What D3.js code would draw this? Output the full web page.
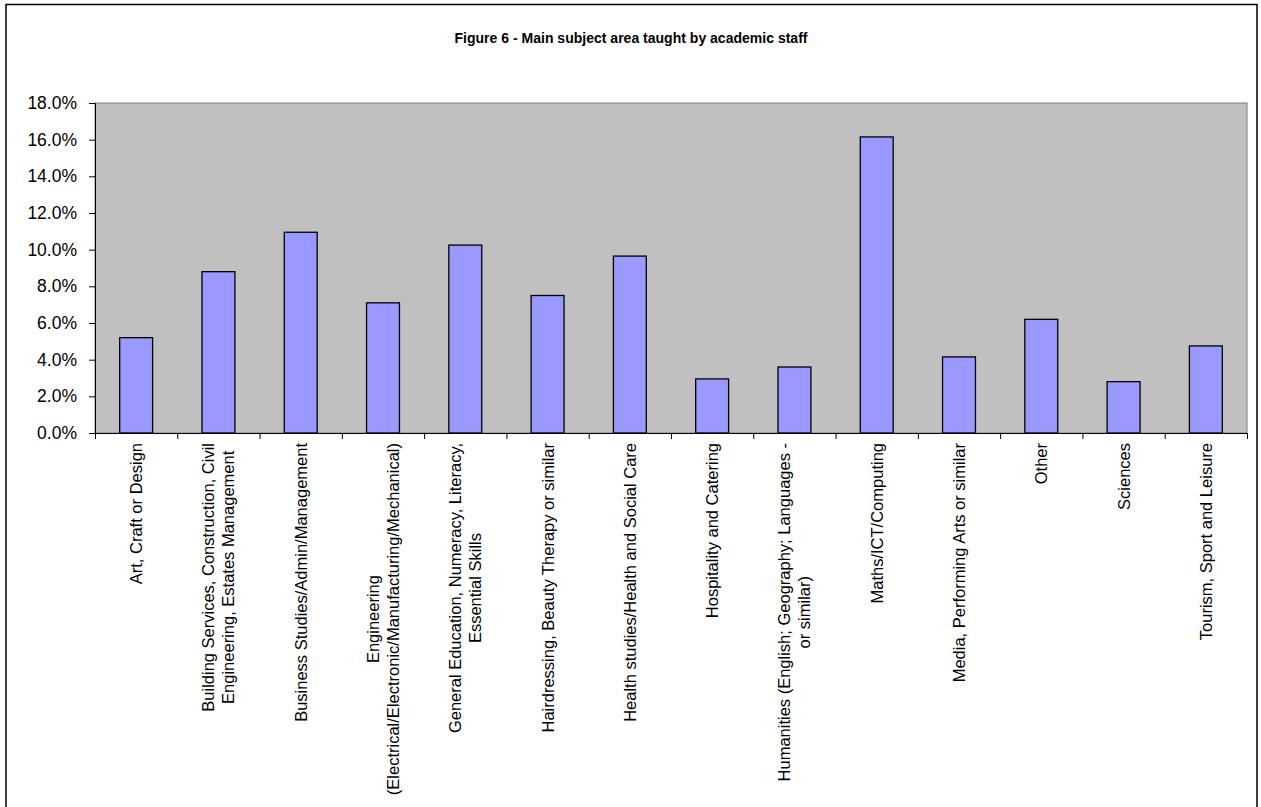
<!DOCTYPE html>
<html>
<head>
<meta charset="utf-8">
<script src="https://cdn.jsdelivr.net/npm/d3@7"></script>
<style>
  html, body { margin: 0; padding: 0; background: #ffffff; }
  svg { display: block; font-family: "Liberation Sans", Arial, sans-serif; }
</style>
</head>
<body>
<svg id="chart" width="1261" height="807"></svg>
<script>
// Subject areas (line breaks mark how the axis labels wrap)
const categories = [
  "Art, Craft or Design",
  "Building Services, Construction, Civil\nEngineering, Estates Management",
  "Business Studies/Admin/Management",
  "Engineering\n(Electrical/Electronic/Manufacturing/Mechanical)",
  "General Education, Numeracy, Literacy,\nEssential Skills",
  "Hairdressing, Beauty Therapy or similar",
  "Health studies/Health and Social Care",
  "Hospitality and Catering",
  "Humanities (English; Geography; Languages -\nor similar)",
  "Maths/ICT/Computing",
  "Media, Performing Arts or similar",
  "Other",
  "Sciences",
  "Tourism, Sport and Leisure"
];

// Share of academic staff (%)
const shares = [5.2, 8.8, 10.95, 7.1, 10.25, 7.5, 9.65, 2.95, 3.6, 16.15, 4.15, 6.2, 2.8, 4.75];

// Value axis ticks (%)
const yTicks = [0, 2, 4, 6, 8, 10, 12, 14, 16, 18];

const title = "Figure 6 - Main subject area taught by academic staff";

const svg = d3.select("#chart");

// Outer chart frame
svg.append("rect")
  .attr("x", 6).attr("y", 4.5)
  .attr("width", 1251).attr("height", 820)
  .attr("fill", "#ffffff")
  .attr("stroke", "#000000")
  .attr("stroke-width", 1.5);

// Title
svg.append("text")
  .attr("x", 631).attr("y", 43)
  .attr("text-anchor", "middle")
  .attr("font-size", 15.5)
  .attr("font-weight", "bold")
  .attr("textLength", 353)
  .attr("lengthAdjust", "spacingAndGlyphs")
  .attr("fill", "#000")
  .text(title);

const plot = { left: 95, right: 1247, top: 103, bottom: 433 };

const x = d3.scaleBand()
  .domain(d3.range(categories.length))
  .range([plot.left, plot.right])
  .paddingInner(0.6)
  .paddingOuter(0.3);

const xEdges = d3.scaleLinear()
  .domain([0, categories.length])
  .range([plot.left, plot.right]);

const y = d3.scaleLinear()
  .domain([0, 18])
  .range([plot.bottom, plot.top]);

// Plot area background
svg.append("rect")
  .attr("x", plot.left).attr("y", plot.top)
  .attr("width", plot.right - plot.left)
  .attr("height", plot.bottom - plot.top)
  .attr("fill", "#c0c0c0")
  .attr("stroke", "#808080")
  .attr("stroke-width", 1);

// Bars
svg.append("g")
  .selectAll("rect")
  .data(shares)
  .join("rect")
  .attr("x", (d, i) => x(i))
  .attr("y", d => y(d))
  .attr("width", x.bandwidth())
  .attr("height", d => y(0) - y(d))
  .attr("fill", "#9999ff")
  .attr("stroke", "#000000")
  .attr("stroke-width", 1.3);

// Value axis
const yAxis = svg.append("g")
  .attr("transform", `translate(${plot.left},0)`)
  .call(d3.axisLeft(y)
    .tickValues(yTicks)
    .tickFormat(d => d.toFixed(1) + "%")
    .tickSize(6)
    .tickPadding(12));
yAxis.select(".domain").attr("stroke", "#000").attr("stroke-width", 1);
yAxis.selectAll(".tick line").attr("stroke", "#000");
yAxis.selectAll(".tick text")
  .attr("font-family", "'Liberation Sans', Arial, sans-serif")
  .attr("font-size", 17.5)
  .attr("fill", "#000");

// Category axis with ticks between categories
const xAxis = svg.append("g")
  .attr("transform", `translate(0,${plot.bottom})`)
  .call(d3.axisBottom(xEdges)
    .tickValues(d3.range(categories.length + 1))
    .tickFormat("")
    .tickSize(6)
    .tickSizeOuter(0));
xAxis.select(".domain").attr("stroke", "#000").attr("stroke-width", 1);
xAxis.selectAll(".tick line").attr("stroke", "#000");

// Rotated category labels
const lineH = 20;
const labelTop = 443;
const labels = svg.append("g")
  .selectAll("g")
  .data(categories)
  .join("g")
  .attr("transform", (d, i) => `translate(${x(i) + x.bandwidth() / 2},${labelTop}) rotate(-90)`);

labels.each(function (d) {
  const g = d3.select(this);
  const lines = d.split("\n");
  const texts = g.selectAll("text")
    .data(lines)
    .join("text")
    .attr("font-size", 16.5)
    .attr("fill", "#000")
    .attr("dominant-baseline", "central")
    .attr("y", (l, j) => (j - (lines.length - 1) / 2) * lineH)
    .text(l => l);
  let maxW = 0;
  texts.each(function () { maxW = Math.max(maxW, this.getComputedTextLength()); });
  texts.attr("text-anchor", "middle").attr("x", -maxW / 2);
});
</script>
</body>
</html>
